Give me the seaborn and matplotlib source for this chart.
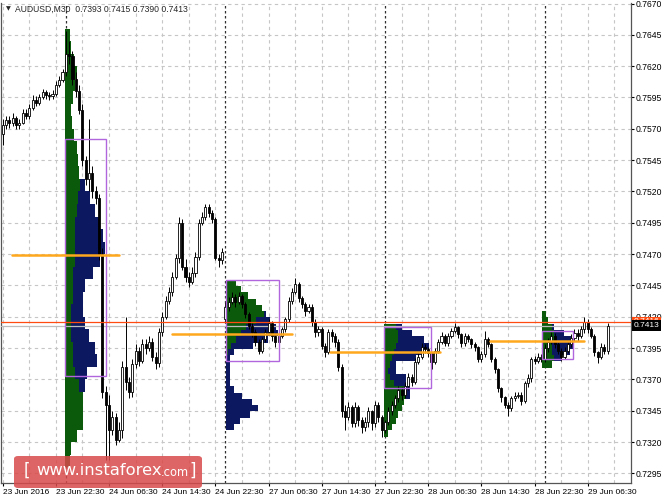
import numpy as np
import pandas as pd
import matplotlib
matplotlib.use("Agg")
import matplotlib.pyplot as plt
from matplotlib.patches import Rectangle, FancyBboxPatch
import seaborn as sns

# ---------------- data ----------------
closes = [
    0.7573, 0.7577, 0.7575, 0.7579, 0.7573, 0.7575, 0.7583, 0.7580, 0.7587, 0.7593,
    0.7591, 0.7595, 0.7599, 0.7597, 0.7596, 0.7598, 0.7605, 0.7609, 0.7615, 0.7630,
    0.7628, 0.7610, 0.7600, 0.7585, 0.7545, 0.7530, 0.7535, 0.7520, 0.7515, 0.7470,
    0.7360, 0.7350, 0.7330, 0.7340, 0.7322, 0.7330, 0.7380, 0.7368, 0.7360, 0.7382,
    0.7393, 0.7385, 0.7398, 0.7395, 0.7400, 0.7388, 0.7383, 0.7408, 0.7420, 0.7433,
    0.7440, 0.7452, 0.7467, 0.7495, 0.7460, 0.7452, 0.7448, 0.7455, 0.7468, 0.7495,
    0.7500, 0.7508, 0.7503, 0.7498, 0.7467, 0.7465, 0.7472, 0.7428, 0.7432, 0.7436,
    0.7432, 0.7437, 0.7430, 0.7422, 0.7413, 0.7408, 0.7400, 0.7393, 0.7402, 0.7408,
    0.7415, 0.7405, 0.7400, 0.7405, 0.7410, 0.7418, 0.7433, 0.7440, 0.7446, 0.7435,
    0.7430, 0.7425, 0.7428, 0.7416, 0.7408, 0.7410, 0.7397, 0.7392, 0.7408, 0.7405,
    0.7400, 0.7380, 0.7345, 0.7340, 0.7348, 0.7335, 0.7348, 0.7338, 0.7332, 0.7336,
    0.7345, 0.7335, 0.7350, 0.7340, 0.7330, 0.7336, 0.7345, 0.7350, 0.7355, 0.7362,
    0.7358, 0.7365, 0.7372, 0.7368, 0.7384, 0.7388, 0.7396, 0.7394, 0.7391, 0.7384,
    0.7393, 0.7400, 0.7405, 0.7399, 0.7405, 0.7409, 0.7412, 0.7406, 0.7399, 0.7405,
    0.7402, 0.7398, 0.7396, 0.7386, 0.7390, 0.7402, 0.7398, 0.7386, 0.7378, 0.7363,
    0.7356, 0.7350, 0.7347, 0.7355, 0.7357, 0.7358, 0.7353, 0.7367, 0.7371, 0.7386,
    0.7385, 0.7388, 0.7386, 0.7395, 0.7400, 0.7405, 0.7398, 0.7393, 0.7388, 0.7393,
    0.7398, 0.7403, 0.7407, 0.7405, 0.7410, 0.7416, 0.7410, 0.7405, 0.7392, 0.7388,
    0.7396, 0.7393, 0.7413,
]
highs = [
    0.7578, 0.7580, 0.7580, 0.7583, 0.7580, 0.7578, 0.7586, 0.7586, 0.7590, 0.7597,
    0.7596, 0.7598, 0.7602, 0.7601, 0.7599, 0.7601, 0.7608, 0.7612, 0.7618, 0.7648,
    0.7640, 0.7632, 0.7615, 0.7605, 0.7590, 0.7548, 0.7578, 0.7540, 0.7524, 0.7518,
    0.7475, 0.7365, 0.7358, 0.7345, 0.7343, 0.7336, 0.7385, 0.7420, 0.7372, 0.7386,
    0.7398, 0.7396, 0.7402, 0.7402, 0.7405, 0.7403, 0.7392, 0.7411, 0.7424, 0.7437,
    0.7444, 0.7456, 0.7470, 0.7500, 0.7498, 0.7466, 0.7456, 0.7460, 0.7472, 0.7498,
    0.7504, 0.7510, 0.7510, 0.7505, 0.7500, 0.7470, 0.7475, 0.7432, 0.7436, 0.7440,
    0.7438, 0.7440, 0.7438, 0.7432, 0.7424, 0.7415, 0.7410, 0.7402, 0.7404, 0.7410,
    0.7418, 0.7417, 0.7407, 0.7408, 0.7412, 0.7420, 0.7436, 0.7443, 0.7451, 0.7448,
    0.7437, 0.7432, 0.7430, 0.7430, 0.7418, 0.7413, 0.7412, 0.7399, 0.7410, 0.7410,
    0.7407, 0.7402, 0.7382, 0.7350, 0.7352, 0.7350, 0.7352, 0.7350, 0.7340, 0.7340,
    0.7348, 0.7346, 0.7353, 0.7352, 0.7342, 0.7338, 0.7348, 0.7353, 0.7358, 0.7365,
    0.7364, 0.7368, 0.7375, 0.7374, 0.7387, 0.7391, 0.7399, 0.7398, 0.7396, 0.7392,
    0.7395, 0.7402, 0.7408, 0.7406, 0.7407, 0.7411, 0.7415, 0.7413, 0.7407, 0.7407,
    0.7406, 0.7403, 0.7400, 0.7397, 0.7393, 0.7409, 0.7404, 0.7399, 0.7388, 0.7379,
    0.7364, 0.7357, 0.7352, 0.7357, 0.7360, 0.7360, 0.7360, 0.7369, 0.7374, 0.7388,
    0.7389, 0.7391, 0.7390, 0.7398, 0.7403, 0.7408, 0.7407, 0.7400, 0.7395, 0.7396,
    0.7400, 0.7406, 0.7410, 0.7410, 0.7413, 0.7420, 0.7418, 0.7412, 0.7406, 0.7393,
    0.7399, 0.7398, 0.7415,
]
lows = [
    0.7557, 0.7570, 0.7571, 0.7572, 0.7570, 0.7570, 0.7574, 0.7578, 0.7578, 0.7585,
    0.7588, 0.7589, 0.7594, 0.7594, 0.7593, 0.7594, 0.7596, 0.7603, 0.7607, 0.7612,
    0.7622, 0.7605, 0.7595, 0.7582, 0.7540, 0.7525, 0.7520, 0.7515, 0.7510, 0.7465,
    0.7355, 0.7306, 0.7306, 0.7326, 0.7318, 0.7320, 0.7323, 0.7362, 0.7355, 0.7356,
    0.7379, 0.7381, 0.7383, 0.7390, 0.7393, 0.7385, 0.7378, 0.7380, 0.7405, 0.7418,
    0.7430, 0.7437, 0.7450, 0.7463, 0.7457, 0.7448, 0.7444, 0.7446, 0.7452, 0.7465,
    0.7493, 0.7497, 0.7500, 0.7495, 0.7465, 0.7460, 0.7462, 0.7415, 0.7425, 0.7430,
    0.7428, 0.7430, 0.7427, 0.7419, 0.7410, 0.7404, 0.7397, 0.7390, 0.7391, 0.7400,
    0.7406, 0.7401, 0.7396, 0.7398, 0.7403, 0.7408, 0.7416, 0.7430, 0.7438, 0.7432,
    0.7427, 0.7421, 0.7423, 0.7413, 0.7404, 0.7405, 0.7394, 0.7388, 0.7390, 0.7400,
    0.7396, 0.7377, 0.7340, 0.7330, 0.7338, 0.7332, 0.7332, 0.7333, 0.7327, 0.7329,
    0.7332, 0.7330, 0.7332, 0.7336, 0.7324, 0.7327, 0.7334, 0.7342, 0.7347, 0.7352,
    0.7354, 0.7355, 0.7362, 0.7365, 0.7366, 0.7382, 0.7386, 0.7391, 0.7388, 0.7378,
    0.7382, 0.7391, 0.7398, 0.7397, 0.7397, 0.7403, 0.7407, 0.7403, 0.7396, 0.7397,
    0.7400, 0.7395, 0.7393, 0.7384, 0.7384, 0.7388, 0.7396, 0.7384, 0.7375, 0.7360,
    0.7352, 0.7347, 0.7341, 0.7345, 0.7353, 0.7355, 0.7350, 0.7351, 0.7364, 0.7368,
    0.7382, 0.7383, 0.7384, 0.7384, 0.7392, 0.7398, 0.7395, 0.7390, 0.7385, 0.7386,
    0.7391, 0.7396, 0.7401, 0.7401, 0.7403, 0.7407, 0.7407, 0.7403, 0.7389, 0.7383,
    0.7386, 0.7390, 0.7390,
]
first_open = 0.7566
monday_gap_bar = 67
monday_open = 0.7418

x_tick_bars = [0, 16, 32, 48, 64, 80, 96, 112, 128, 144, 160, 176]
x_tick_labels = ["23 Jun 2016", "23 Jun 22:30", "24 Jun 06:30", "24 Jun 14:30",
                 "24 Jun 22:30", "27 Jun 06:30", "27 Jun 14:30", "27 Jun 22:30",
                 "28 Jun 06:30", "28 Jun 14:30", "28 Jun 22:30", "29 Jun 06:30"]
price_ticks = [0.7295, 0.7320, 0.7345, 0.7370, 0.7395, 0.7420, 0.7445, 0.7470,
               0.7495, 0.7520, 0.7545, 0.7570, 0.7595, 0.7620, 0.7645, 0.7670]
day_start_bars = [19, 67, 115, 163]

# market profiles: price levels, early (green) and late (navy) TPO widths
prof1_levels = [0.7645, 0.7635, 0.7625, 0.7615, 0.7605, 0.7595, 0.7585, 0.7575, 0.7565,
                0.7555, 0.7545, 0.7535, 0.7525, 0.7515, 0.7505, 0.7495, 0.7485, 0.7475,
                0.7465, 0.7455, 0.7445, 0.7435, 0.7425, 0.7415, 0.7405, 0.7395, 0.7385,
                0.7375, 0.7365, 0.7355, 0.7345, 0.7335, 0.7325, 0.7315, 0.7305]
prof1_green = [5, 6, 9, 12, 10, 8, 6, 7, 9, 12, 13, 14, 15, 13, 12, 10, 10, 10,
               10, 8, 8, 8, 6, 6, 6, 8, 8, 10, 14, 18, 18, 18, 12, 6, 5]
prof1_navy = [0, 0, 0, 0, 0, 0, 0, 0, 0, 0, 0, 0, 5, 12, 18, 25, 28, 30,
              25, 20, 12, 10, 12, 14, 18, 22, 24, 12, 6, 0, 0, 0, 0, 0, 0]

prof2_levels = [0.7447, 0.7442, 0.7437, 0.7432, 0.7427, 0.7422, 0.7417, 0.7412, 0.7407,
                0.7402, 0.7397, 0.7392, 0.7387, 0.7382, 0.7377, 0.7372, 0.7367, 0.7362,
                0.7357, 0.7352, 0.7347, 0.7342, 0.7337, 0.7332]
prof2_green = [10, 15, 22, 30, 36, 38, 30, 20, 15, 10, 5, 2, 0, 0, 0, 0, 0, 0,
               0, 0, 0, 0, 0, 0]
prof2_navy = [0, 0, 0, 0, 0, 2, 14, 30, 37, 32, 22, 6, 4, 4, 4, 4, 4, 8,
              16, 26, 32, 24, 14, 8]

prof3_levels = [0.7412, 0.7407, 0.7402, 0.7397, 0.7392, 0.7387, 0.7382, 0.7377, 0.7372,
                0.7367, 0.7362, 0.7357, 0.7352, 0.7347, 0.7342, 0.7337, 0.7332, 0.7327]
prof3_green = [12, 14, 14, 12, 10, 8, 6, 4, 6, 10, 20, 22, 20, 18, 14, 12, 8, 4]
prof3_navy = [6, 14, 26, 33, 30, 24, 6, 8, 16, 12, 6, 4, 0, 0, 0, 0, 0, 0]

prof4_levels = [0.7422, 0.7417, 0.7412, 0.7407, 0.7402, 0.7397, 0.7392, 0.7387, 0.7382]
prof4_green = [4, 6, 10, 12, 12, 10, 10, 12, 10]
prof4_navy = [0, 0, 2, 10, 18, 22, 18, 8, 0]

profile_start = [18.7, 67.1, 114.8, 162.3]
value_area_top = [0.7562, 0.7449, 0.7412, 0.7409]
value_area_bottom = [0.7373, 0.7385, 0.7363, 0.7386]
value_area_right = [31.1, 83.1, 128.8, 171.5]
poc_price = [0.7469, 0.7406, 0.7392, 0.7401]
poc_from = [2.8, 51.0, 98.5, 146.5]
poc_to = [35.0, 87.0, 131.5, 175.0]

last_price = 0.7413
hline_price = 0.7416

# ---------------- figure ----------------
sns.set_theme(style="white")
plt.rcParams["font.family"] = ["Liberation Sans", "DejaVu Sans"]

W, H = 664, 498
fig = plt.figure(figsize=(W / 100, H / 100), dpi=100)
ax_l, ax_r, ax_t, ax_b = 1, 631, 3, 483
ax = fig.add_axes([ax_l / W, 1 - ax_b / H, (ax_r - ax_l) / W, (ax_b - ax_t) / H])
ax.set_xlim(-0.5, 189.0)
ax.set_ylim(0.72874, 0.76704)
ax.set_facecolor("white")

grid_kw = dict(color="#c6c6c6", lw=0.8, ls=(0, (3, 3)), zorder=0)
for p in price_ticks:
    ax.axhline(p, **grid_kw)
for b in range(0, 189, 8):
    ax.axvline(b, **grid_kw)
for b in day_start_bars:
    ax.axvline(b, color="#303030", lw=0.9, ls=(0, (2, 2)), zorder=1)

# profiles
px_per_bar = 3.325
green_c = "#0b5a0b"
navy_c = "#0c1860"
profiles = [
    (prof1_levels, prof1_green, prof1_navy, 0.0010),
    (prof2_levels, prof2_green, prof2_navy, 0.0005),
    (prof3_levels, prof3_green, prof3_navy, 0.0005),
    (prof4_levels, prof4_green, prof4_navy, 0.0005),
]
for (lv, g, nv, step), x0 in zip(profiles, profile_start):
    g = np.array(g) / px_per_bar
    nv = np.array(nv) / px_per_bar
    ax.barh(lv, g, left=x0, height=step, color=green_c, lw=0, zorder=2)
    ax.barh(lv, nv, left=x0 + g, height=step, color=navy_c, lw=0, zorder=2)

# candles
n = len(closes)
opens = [first_open] + closes[:-1]
opens[monday_gap_bar] = monday_open
df = pd.DataFrame({"bar": np.arange(n), "open": opens, "high": highs,
                   "low": lows, "close": closes})
ax.vlines(df["bar"], df["low"], df["high"], color="black", lw=0.7, zorder=4)
up = df["close"] >= df["open"]
dn = ~up
ax.bar(df["bar"][up], (df["close"] - df["open"])[up], bottom=df["open"][up],
       width=0.62, facecolor="white", edgecolor="black", lw=0.6, zorder=5)
ax.bar(df["bar"][dn], (df["close"] - df["open"])[dn], bottom=df["open"][dn],
       width=0.62, facecolor="black", edgecolor="black", lw=0.6, zorder=5)

# value areas and POC lines
for x0, x1, top, bot in zip(profile_start, value_area_right, value_area_top, value_area_bottom):
    ax.add_patch(Rectangle((x0, bot), x1 - x0, top - bot, fill=False,
                           edgecolor="#b266dd", lw=1.0, zorder=6))
poc_df = pd.DataFrame({
    "x": [v for a, b in zip(poc_from, poc_to) for v in (a, b)],
    "y": [p for p in poc_price for _ in (0, 1)],
    "grp": [i for i in range(len(poc_price)) for _ in (0, 1)],
})
sns.lineplot(data=poc_df, x="x", y="y", units="grp", estimator=None,
             color="#ffa81e", lw=1.8, ax=ax, zorder=7, legend=False)

ax.axhline(hline_price, color="#ff4a10", lw=0.9, zorder=8)
ax.axhline(last_price, color="#bdbdbd", lw=0.9, zorder=3)

# axes styling
ax.spines["top"].set_visible(False)
for s in ["left", "right", "bottom"]:
    ax.spines[s].set_color("#555555")
    ax.spines[s].set_linewidth(0.9)
ax.yaxis.tick_right()
ax.set_yticks(price_ticks)
ax.set_yticklabels([f"{p:.4f}" for p in price_ticks])
ax.set_xticks(x_tick_bars)
ax.set_xticklabels(x_tick_labels)
for lbl in ax.get_xticklabels():
    lbl.set_horizontalalignment("left")
ax.tick_params(axis="y", right=True, left=False, length=2.5, width=0.8, pad=1,
               labelsize=6.2, colors="black")
ax.tick_params(axis="x", bottom=True, length=2.5, width=0.8, pad=1.5,
               labelsize=6.0, colors="black")
ax.set_xlabel("")
ax.set_ylabel("")

# price labels on the right (the current-price label sits over the 0.7420 tick, as in MT4)
ax.text(1.004, hline_price, "0.7416", transform=ax.get_yaxis_transform(),
        ha="left", va="center", fontsize=6.0, color="white", zorder=20, clip_on=False,
        bbox=dict(boxstyle="square,pad=0.2", facecolor="#ff4a10", edgecolor="none"))
ax.text(1.004, last_price, "0.7413", transform=ax.get_yaxis_transform(),
        ha="left", va="center", fontsize=6.0, color="white", zorder=21, clip_on=False,
        bbox=dict(boxstyle="square,pad=0.2", facecolor="black", edgecolor="none"))

# header
fig.text(6 / W, 1 - 9 / H, "\u25BC", fontsize=4.5, va="center", ha="left",
         family=["DejaVu Sans"])
fig.text(15 / W, 1 - 9 / H, "AUDUSD,M30  0.7393 0.7415 0.7390 0.7413",
         fontsize=6.2, va="center", ha="left")

# watermark
fig.patches.append(FancyBboxPatch((14 / W, 1 - 488 / H), 188 / W, 32 / H,
                                  boxstyle="round,pad=0,rounding_size=0.006",
                                  transform=fig.transFigure, facecolor="#d94a4a",
                                  edgecolor="none", alpha=0.85, zorder=30))
fig.text(24 / W, 1 - 471 / H, "[", fontsize=12, color="white", va="center",
         ha="left", zorder=31, family=["DejaVu Sans"])
fig.text(36 / W, 1 - 470 / H, "www.instaforex", fontsize=11.8, color="white",
         va="center", ha="left", zorder=31, family=["DejaVu Sans"])
fig.text(161 / W, 1 - 472 / H, ".com", fontsize=8.3, color="white",
         va="center", ha="left", zorder=31, family=["DejaVu Sans"])
fig.text(189 / W, 1 - 471 / H, "]", fontsize=12, color="white", va="center",
         ha="left", zorder=31, family=["DejaVu Sans"])

fig.savefig("out.png", dpi=100)
